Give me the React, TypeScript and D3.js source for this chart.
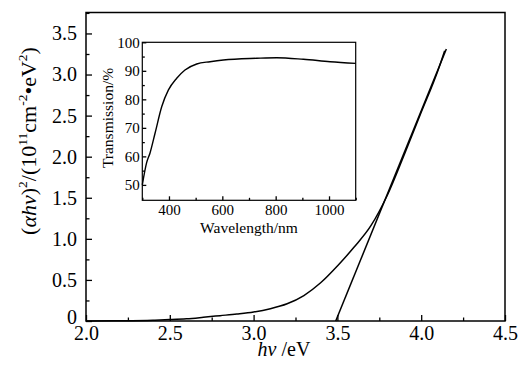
import React, { useEffect, useRef } from 'react';
import * as d3 from 'd3';

// main plot: (alpha h nu)^2 vs photon energy
const photonEnergy = [2.0, 2.2, 2.4, 2.5, 2.6, 2.7, 2.8, 2.9, 3.0, 3.1, 3.2, 3.3, 3.4, 3.5, 3.6, 3.7, 3.8, 3.9, 4.0, 4.1, 4.14];
const absorption = [0, 0.003, 0.01, 0.017, 0.027, 0.045, 0.065, 0.085, 0.11, 0.15, 0.21, 0.31, 0.465, 0.67, 0.9, 1.16, 1.54, 2.03, 2.54, 3.05, 3.29];
// linear fit extrapolated to the band gap
const tangentX = [3.49, 4.15];
const tangentY = [0, 3.31];
// inset: transmission spectrum
const wavelength = [300, 316, 329, 348, 373, 398, 429, 460, 504, 554, 604, 729, 804, 904, 1004, 1100];
const transmission = [50, 57.7, 61.2, 68.2, 77.5, 83.3, 87.4, 90.3, 92.4, 93.2, 93.8, 94.4, 94.6, 94.05, 93.2, 92.6];

const xTicks = [2.0, 2.5, 3.0, 3.5, 4.0, 4.5];
const xMinor = [2.25, 2.75, 3.25, 3.75, 4.25];
const yTicks = [0, 0.5, 1.0, 1.5, 2.0, 2.5, 3.0, 3.5];
const yMinor = [0.25, 0.75, 1.25, 1.75, 2.25, 2.75, 3.25, 3.75];
const insetXTicks = [400, 600, 800, 1000];
const insetXMinor = [300, 500, 700, 900, 1100];
const insetYTicks = [50, 60, 70, 80, 90, 100];
const insetYMinor = [55, 65, 75, 85, 95];

const FONT = "'Liberation Serif', 'DejaVu Serif', serif";

export default function App() {
  const ref = useRef<SVGSVGElement>(null);

  useEffect(() => {
    const svg = d3.select(ref.current);
    svg.selectAll('*').remove();

    const left = 86, right = 505, top = 12.5, bottom = 321;
    const x = d3.scaleLinear().domain([2.0, 4.5]).range([left, right]);
    const y = d3.scaleLinear().domain([0, 3.755]).range([bottom, top]);

    // frame
    svg.append('rect')
      .attr('x', left).attr('y', top)
      .attr('width', right - left).attr('height', bottom - top)
      .attr('fill', 'none').attr('stroke', '#000').attr('stroke-width', 1.5);

    const styleAxis = (g: any, size: number) => {
      g.attr('font-family', null).attr('font-size', null);
      g.select('.domain').remove();
      g.selectAll('line').attr('stroke', '#000').attr('stroke-width', 1.3);
      g.selectAll('text').style('font-family', FONT).style('font-size', size + 'px').attr('fill', '#000');
    };

    svg.append('g').attr('transform', `translate(0,${bottom})`)
      .call(d3.axisBottom(x).tickValues(xTicks).tickSize(-6).tickPadding(5).tickFormat((d: any) => d3.format('.1f')(d)))
      .call((g: any) => styleAxis(g, 20));
    svg.append('g').attr('transform', `translate(0,${bottom})`)
      .call(d3.axisBottom(x).tickValues(xMinor).tickSize(-3.5).tickFormat(() => ''))
      .call((g: any) => styleAxis(g, 20));
    svg.append('g').attr('transform', `translate(${left},0)`)
      .call(d3.axisLeft(y).tickValues(yTicks).tickSize(-6).tickPadding(9).tickFormat((d: any) => (d === 0 ? '0' : d3.format('.1f')(d))))
      .call((g: any) => styleAxis(g, 20))
      .call((g: any) => g.selectAll('text').filter((d: any) => d === 0).attr('dy', '0.1em'));
    svg.append('g').attr('transform', `translate(${left},0)`)
      .call(d3.axisLeft(y).tickValues(yMinor).tickSize(-3.5).tickFormat(() => ''))
      .call((g: any) => styleAxis(g, 20));

    const line = d3.line<number>()
      .x((_, i) => x(photonEnergy[i]))
      .y((d) => y(d))
      .curve(d3.curveMonotoneX);
    svg.append('path').attr('d', line(absorption))
      .attr('fill', 'none').attr('stroke', '#000').attr('stroke-width', 1.5);

    const fit = d3.line<number>().x((_, i) => x(tangentX[i])).y((d) => y(d));
    svg.append('path').attr('d', fit(tangentY))
      .attr('fill', 'none').attr('stroke', '#000').attr('stroke-width', 1.5);

    // axis titles
    const xt = svg.append('text').attr('x', 284).attr('y', 356)
      .attr('text-anchor', 'middle').style('font-family', FONT).style('font-size', '20px');
    xt.append('tspan').attr('font-style', 'italic').text('hν');
    xt.append('tspan').text(' /eV');

    const yt = svg.append('text').attr('transform', 'translate(36,141) rotate(-90)')
      .attr('text-anchor', 'middle').style('font-family', FONT).style('font-size', '22px');
    const parts: [string, boolean, boolean][] = [
      ['(', false, false], ['αhν', false, true], [')', false, false], ['2', true, false],
      ['/(10', false, false], ['11', true, false], ['cm', false, false], ['-2', true, false],
      ['•eV', false, false], ['2', true, false], [')', false, false],
    ];
    let raised = false;
    parts.forEach(([t, sup, it]) => {
      const s = yt.append('tspan').text(t);
      if (sup && !raised) { s.attr('dy', -9).style('font-size', '13.5px'); raised = true; }
      else if (sup) s.style('font-size', '13.5px');
      else if (raised) { s.attr('dy', 9); raised = false; }
      if (it) s.attr('font-style', 'italic');
    });

    // inset
    const il = 142.3, ir = 355.7, itop = 42.3, ib = 200.3;
    const ix = d3.scaleLinear().domain([300, 1100]).range([il, ir]);
    const iy = d3.scaleLinear().domain([44.6, 100]).range([ib, itop]);
    svg.append('rect').attr('x', il).attr('y', itop)
      .attr('width', ir - il).attr('height', ib - itop)
      .attr('fill', '#fff').attr('stroke', '#000').attr('stroke-width', 1.2);

    svg.append('g').attr('transform', `translate(0,${ib})`)
      .call(d3.axisBottom(ix).tickValues(insetXTicks).tickSize(-4).tickPadding(4.5).tickFormat((d: any) => String(d)))
      .call((g: any) => styleAxis(g, 15));
    svg.append('g').attr('transform', `translate(0,${ib})`)
      .call(d3.axisBottom(ix).tickValues(insetXMinor).tickSize(-2.5).tickFormat(() => ''))
      .call((g: any) => styleAxis(g, 15));
    svg.append('g').attr('transform', `translate(${il},0)`)
      .call(d3.axisLeft(iy).tickValues(insetYTicks).tickSize(-4).tickPadding(2.5).tickFormat((d: any) => String(d)))
      .call((g: any) => styleAxis(g, 15));
    svg.append('g').attr('transform', `translate(${il},0)`)
      .call(d3.axisLeft(iy).tickValues(insetYMinor).tickSize(-2.5).tickFormat(() => ''))
      .call((g: any) => styleAxis(g, 15));

    const tline = d3.line<number>()
      .x((_, i) => ix(wavelength[i]))
      .y((d) => iy(d))
      .curve(d3.curveMonotoneX);
    svg.append('path').attr('d', tline(transmission))
      .attr('fill', 'none').attr('stroke', '#000').attr('stroke-width', 1.4);

    svg.append('text').attr('x', 249).attr('y', 233).attr('text-anchor', 'middle')
      .style('font-family', FONT).style('font-size', '15.5px').text('Wavelength/nm');
    svg.append('text').attr('transform', 'translate(113,118) rotate(-90)').attr('text-anchor', 'middle')
      .style('font-family', FONT).style('font-size', '15.5px').text('Transmission/%');
  }, []);

  return (
    <svg ref={ref} width={522} height={365}
      style={{ position: 'absolute', left: 0, top: 0, background: '#fff', fontFamily: FONT }} />
  );
}
